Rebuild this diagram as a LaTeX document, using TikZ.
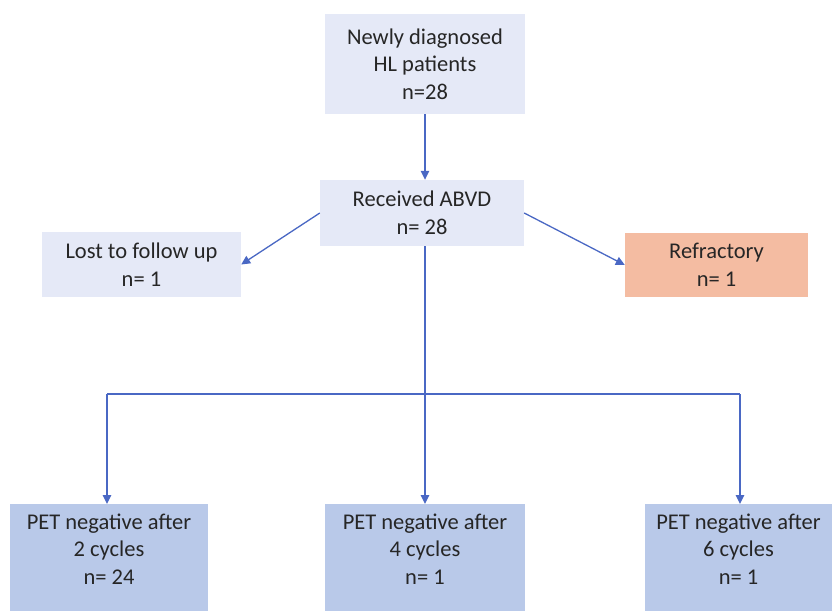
\documentclass[tikz,border=0pt]{standalone}
\usepackage{fontspec}
\setmainfont{Carlito}
\usetikzlibrary{arrows.meta}
\definecolor{lightbox}{HTML}{E5E9F7}
\definecolor{darkbox}{HTML}{B9C9E9}
\definecolor{redbox}{HTML}{F4BCA2}
\definecolor{arrowblue}{HTML}{4A68C4}
\tikzset{
  box/.style={rectangle, inner sep=0pt, align=center, font=\fontsize{22.5}{27.5}\selectfont, text=black!85},
  lbox/.style={box, fill=lightbox},
  arr/.style={draw=arrowblue, line width=1.3pt, -{Triangle[length=9pt,width=8.5pt]}},
  ln/.style={draw=arrowblue, line width=1.3pt}
}
\begin{document}
\begin{tikzpicture}[x=1pt,y=-1pt]
\useasboundingbox[fill=white] (0,0) rectangle (832,611);
\node[lbox, minimum width=200pt, minimum height=100pt] (top) at (425,64) {Newly diagnosed\\HL patients\\n=28};
\node[lbox, minimum width=204pt, minimum height=66pt] (abvd) at (422,213) {Received ABVD\\n= 28};
\node[lbox, minimum width=199pt, minimum height=65pt] (lost) at (141.5,264.5) {Lost to follow up\\n= 1};
\node[box, fill=redbox, minimum width=183pt, minimum height=64pt] (refr) at (716.5,265) {Refractory\\n= 1};
\node[box, fill=darkbox, minimum width=198pt, minimum height=107pt, anchor=north] (p2) at (109,504) {};
\node[box, fill=darkbox, minimum width=200pt, minimum height=107pt, anchor=north] (p4) at (425,504) {};
\node[box, fill=darkbox, minimum width=187pt, minimum height=107pt, anchor=north] (p6) at (738.5,504) {};
\node[box] (t2) at (109,549) {PET negative after\\2 cycles\\n= 24};
\node[box] (t4) at (425,549) {PET negative after\\4 cycles\\n= 1};
\node[box] (t6) at (738.5,549) {PET negative after\\6 cycles\\n= 1};
\coordinate (split) at (425,394);
\coordinate (lc) at (107,394);
\coordinate (rc) at (740,394);
\draw[arr] (top.south) -- (top.south |- abvd.north);
\draw[arr] (abvd.west) -- (lost.east);
\draw[arr] (abvd.east) -- (refr.west);
\draw[arr] (abvd.south -| top.south) -- (p4.north);
\draw[ln] (lc) -- (rc);
\draw[arr] (lc) -- (lc |- p2.north);
\draw[arr] (rc) -- (rc |- p6.north);
\end{tikzpicture}
\end{document}
